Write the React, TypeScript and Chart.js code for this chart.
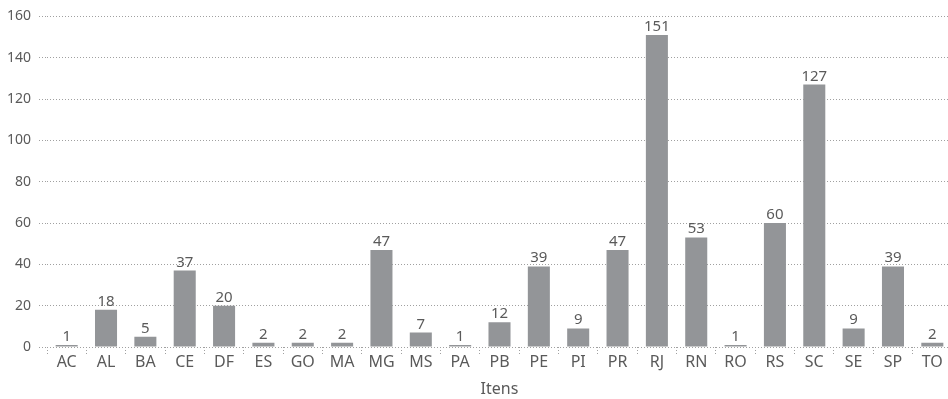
import React, { useEffect, useRef } from "react";
import { Chart, registerables } from "chart.js";

Chart.register(...registerables);

const categories = ["AC", "AL", "BA", "CE", "DF", "ES", "GO", "MA", "MG", "MS", "PA", "PB", "PE", "PI", "PR", "RJ", "RN", "RO", "RS", "SC", "SE", "SP", "TO"];
const counts = [1, 18, 5, 37, 20, 2, 2, 2, 47, 7, 1, 12, 39, 9, 47, 151, 53, 1, 60, 127, 9, 39, 2];
const yTicks = [0, 20, 40, 60, 80, 100, 120, 140, 160];

const FONT = "'Noto Sans', sans-serif";
const TEXT = "#5a5a5a";
const BAR = "#939598";
const GRID = "#a0a0a0";

// Writes each bar's count just above its top edge.
const valueLabels = {
  id: "valueLabels",
  afterDatasetsDraw(chart: any) {
    const { ctx } = chart;
    const meta = chart.getDatasetMeta(0);
    ctx.save();
    ctx.font = `15px ${FONT}`;
    ctx.fillStyle = TEXT;
    ctx.textAlign = "center";
    ctx.textBaseline = "alphabetic";
    meta.data.forEach((bar: any, i: number) => {
      ctx.fillText(String(counts[i]), bar.x, bar.y - 4);
    });
    ctx.restore();
  },
};

export default function App() {
  const ref = useRef<HTMLCanvasElement | null>(null);

  useEffect(() => {
    document.body.style.margin = "0";
    const chart = new Chart(ref.current as HTMLCanvasElement, {
      type: "bar",
      data: {
        labels: categories,
        datasets: [
          {
            data: counts,
            backgroundColor: BAR,
            categoryPercentage: 1,
            barPercentage: 0.56,
          },
        ],
      },
      options: {
        animation: false,
        responsive: false,
        layout: { padding: { top: 5, right: 0, left: 0, bottom: 0 } },
        plugins: {
          legend: { display: false },
          tooltip: { enabled: false },
        },
        scales: {
          x: {
            offset: true,
            afterFit(scale: any) {
              scale.height = 52;
            },
            grid: {
              offset: true,
              drawOnChartArea: false,
              drawTicks: true,
              tickLength: 7,
              color: GRID,
              tickBorderDash: [1, 2],
              tickColor: GRID,
            },
            border: { display: false },
            ticks: {
              color: TEXT,
              font: { family: FONT, size: 16 },
              padding: -1,
              maxRotation: 0,
              autoSkip: false,
            },
            title: {
              display: true,
              text: "Itens",
              color: TEXT,
              font: { family: FONT, size: 16 },
              padding: { top: 0, bottom: 0 },
            },
          },
          y: {
            min: 0,
            max: 160,
            afterFit(scale: any) {
              scale.width = 47;
            },
            afterBuildTicks(scale: any) {
              scale.ticks = yTicks.map((v) => ({ value: v }));
            },
            grid: {
              color: GRID,
              lineWidth: 1,
              drawTicks: true,
              tickLength: 8,
              tickColor: GRID,
              tickBorderDash: [1, 2],
            },
            border: { display: false, dash: [1, 2] },
            ticks: {
              color: TEXT,
              font: { family: FONT, size: 14 },
              padding: 8,
            },
          },
        },
      },
      plugins: [valueLabels],
    });
    return () => chart.destroy();
  }, []);

  return (
    <div style={{ width: 948, height: 399, overflow: "hidden" }}>
      <canvas ref={ref} width={952} height={399} style={{ display: "block" }} />
    </div>
  );
}
